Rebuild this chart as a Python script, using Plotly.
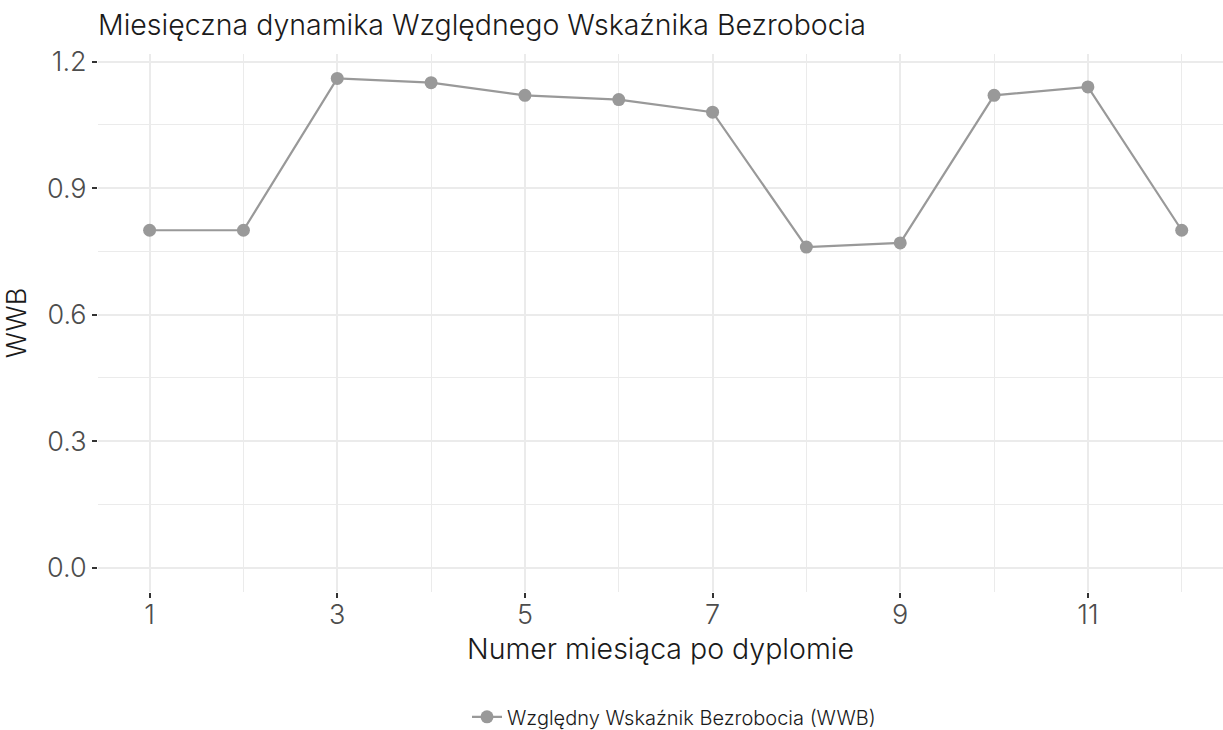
import plotly.graph_objects as go

months = [1, 2, 3, 4, 5, 6, 7, 8, 9, 10, 11, 12]
wwb = [0.80, 0.80, 1.16, 1.15, 1.12, 1.11, 1.08, 0.76, 0.77, 1.12, 1.14, 0.80]
x_ticks = [1, 3, 5, 7, 9, 11]
y_ticks = [0.0, 0.3, 0.6, 0.9, 1.2]
y_tick_labels = ["0.0", "0.3", "0.6", "0.9", "1.2"]

title_text = "Miesięczna dynamika Względnego Wskaźnika Bezrobocia"
x_title = "Numer miesiąca po dyplomie"
y_title = "WWB"
series_name = "Względny Wskaźnik Bezrobocia (WWB)"

FONT = "Inter"
GREY = "#999999"

fig = go.Figure()
fig.add_trace(go.Scatter(
    x=months, y=wwb, mode="lines+markers", name=series_name,
    line=dict(color=GREY, width=2.2),
    marker=dict(color=GREY, size=13),
))

fig.update_layout(
    width=1223, height=730,
    margin=dict(l=98, r=0, t=54, b=138, autoexpand=False),
    paper_bgcolor="white", plot_bgcolor="white",
    font=dict(family=FONT, color="#1a1a1a", weight=300),
    title=dict(text=title_text, x=0, xref="paper", xanchor="left",
               y=1 - 25 / 730, yref="container", yanchor="middle",
               font=dict(size=28.5, color="#1a1a1a", family=FONT, weight=300)),
    showlegend=True,
    legend=dict(orientation="h", x=0.512, xanchor="center", y=-0.232, yanchor="middle",
                font=dict(size=20, color="#1a1a1a", family=FONT, weight=300)),
)

fig.update_xaxes(
    range=[0.45, 12.44], automargin=False,
    tickmode="array", tickvals=x_ticks, ticktext=[str(v) for v in x_ticks],
    ticks="outside", ticklen=5, tickwidth=1.5, tickcolor="#333333",
    ticklabelstandoff=-6,
    tickfont=dict(size=27, color="#4d4d4d", family=FONT, weight=300),
    showgrid=True, gridcolor="#EBEBEB", gridwidth=2,
    minor=dict(dtick=1, tick0=0, showgrid=True, gridcolor="#EBEBEB", gridwidth=1, ticks=""),
    zeroline=False, showline=False,
    title=dict(text=x_title, font=dict(size=28.5, color="#1a1a1a", family=FONT, weight=300), standoff=4),
)
fig.update_yaxes(
    range=[-0.058, 1.218], automargin=False,
    tickmode="array", tickvals=y_ticks, ticktext=y_tick_labels,
    ticks="outside", ticklen=5, tickwidth=1.5, tickcolor="#333333",
    tickfont=dict(size=27, color="#4d4d4d", family=FONT, weight=300),
    showgrid=True, gridcolor="#EBEBEB", gridwidth=2,
    minor=dict(dtick=0.15, tick0=0, showgrid=True, gridcolor="#EBEBEB", gridwidth=1, ticks=""),
    zeroline=False, showline=False,
    title=dict(text=y_title, font=dict(size=27, color="#1a1a1a", family=FONT, weight=300), standoff=12),
)

fig.write_html("out.html", config={"displayModeBar": False},
               post_script="document.body.style.margin='0';")
